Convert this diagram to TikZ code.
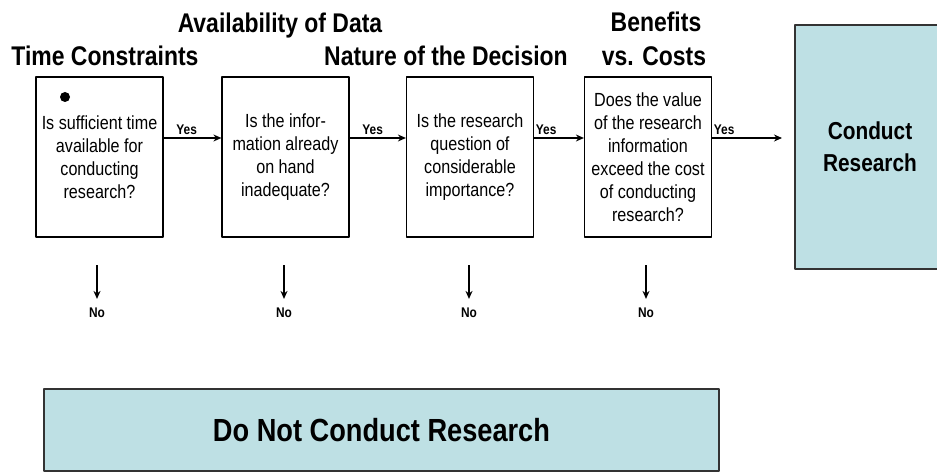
\documentclass[tikz,border=0pt]{standalone}
\usepackage{fontspec}
\setmainfont[FakeStretch=0.85]{Liberation Sans}
\usetikzlibrary{arrows.meta}
\definecolor{outcomefill}{HTML}{BEE0E4}
\begin{document}
\begin{tikzpicture}[x=1pt,y=-1pt,line join=round,>={Stealth[length=8pt,width=7pt]}]
    \tikzset{question/.style={draw,line width=1.2pt,minimum width=127pt,minimum height=160pt,inner sep=0pt,align=center,font=\fontsize{19}{23}\selectfont},
        heading/.style={anchor=base,inner sep=0pt,font=\fontsize{27}{32}\selectfont\bfseries},
        outcome/.style={draw=black!80,fill=outcomefill,line width=1.2pt,align=center,font=\bfseries},
        answer/.style={inner sep=3pt,font=\fontsize{14}{16}\selectfont\bfseries},
        flow/.style={->,line width=1.6pt}}
    \def \yesy{19pt}
    \useasboundingbox (0,0) rectangle (937,473);
    % headings
    \node[heading] (hTime) at (105,66) {Time Constraints};
    \node[heading] (hData) at (280,33) {Availability of Data};
    \node[heading] (hNature) at (446,66) {Nature of the Decision};
    \node[heading] (hBenefit) at (656,32) {Benefits};
    \node[heading] (hCost) at (654,66) {vs. Costs};
    % questions
    \node[question] (q1) at (99.5,157) {Is sufficient time\\available for\\conducting\\research?};
    \node[question] (q2) at (285.5,157) {Is the infor-\\mation already\\on hand\\inadequate?};
    \node[question] (q3) at (470,157) {Is the research\\question of\\considerable\\importance?};
    \node[question] (q4) at (648,157) {Does the value\\of the research\\information\\exceed the cost\\of conducting\\research?};
    \fill (65,97) circle (5pt);
    % outcomes
    \node[outcome,minimum width=150pt,minimum height=244pt,font=\fontsize{24.5}{32}\selectfont\bfseries] (go) at (870,147) {Conduct\\Research};
    \node[outcome,minimum width=675pt,minimum height=82pt,font=\fontsize{32}{36}\selectfont\bfseries] (stop) at (381.5,430) {Do Not Conduct Research};
    % yes arrows
    \coordinate (yesEnd) at (782,138);
    \draw[flow] ([yshift=\yesy]q1.east) -- ([yshift=\yesy]q2.west) node[pos=0,answer,above right,xshift=9pt] (yes1) {Yes};
    \draw[flow] ([yshift=\yesy]q2.east) -- ([yshift=\yesy]q3.west) node[pos=0,answer,above right,xshift=9pt] (yes2) {Yes};
    \draw[flow] ([yshift=\yesy]q3.east) -- ([yshift=\yesy]q4.west) node[pos=0,answer,above right,xshift=-2pt] (yes3) {Yes};
    \draw[flow] ([yshift=\yesy]q4.east) -- (yesEnd) node[pos=0,answer,above right,xshift=-2pt] (yes4) {Yes};
    % no arrows
    \foreach \i/\x in {1/97,2/284,3/469,4/646}{
        \coordinate (top\i) at (\x,265);
        \node[answer] (no\i) at (\x,313) {No};
        \draw[flow,shorten >=6pt] (top\i) -- (no\i);
    }
\end{tikzpicture}
\end{document}
